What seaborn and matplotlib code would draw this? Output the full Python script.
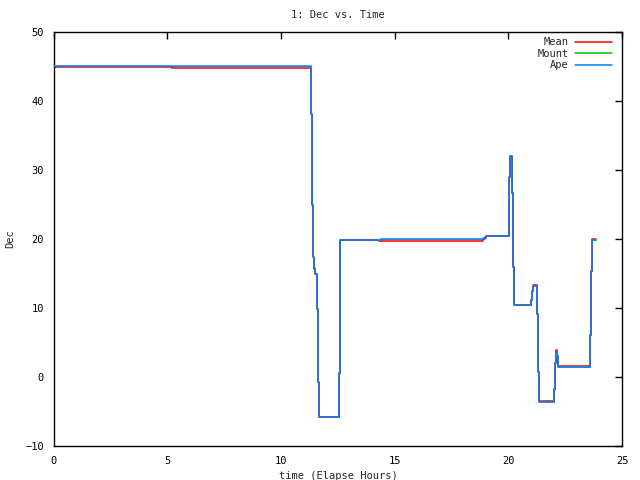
import pandas as pd
import seaborn as sns
import matplotlib.pyplot as plt

# step points (time in hours, Dec in degrees)
ape_time = [0, 11.33, 11.37, 11.41, 11.46, 11.50, 11.59, 11.63, 11.68, 12.53, 12.57, 12.60,
            14.40, 18.90, 18.95, 19.00, 20.01, 20.04, 20.08, 20.17, 20.22, 20.26, 21.00, 21.05,
            21.10, 21.27, 21.32, 21.36, 22.02, 22.06, 22.11, 22.15, 22.19, 23.60, 23.65, 23.69, 23.87]
ape_dec = [45.05, 38.2, 24.9, 17.4, 15.75, 15.0, 9.8, -0.7, -5.85, 0.55, 13.3, 19.8,
           19.95, 20.1, 20.3, 20.4, 23.2, 29.0, 32.1, 26.7, 16.0, 10.43, 11.1, 12.46,
           13.2, 9.13, 0.68, -3.58, -1.8, 1.98, 3.5, 3.0, 1.45, 6.1, 15.3, 19.86, 19.86]

mean_time = [0, 5.19, 11.33, 11.37, 11.41, 11.46, 11.50, 11.59, 11.63, 11.68, 12.53, 12.57, 12.60,
             14.32, 18.90, 18.95, 19.00, 20.01, 20.04, 20.08, 20.17, 20.22, 20.26, 21.00, 21.05,
             21.10, 21.27, 21.32, 21.36, 22.02, 22.06, 22.11, 22.15, 22.19, 23.60, 23.65, 23.69, 23.87]
mean_dec = [45.0, 44.75, 38.2, 24.9, 17.4, 15.6, 14.9, 9.8, -0.7, -5.85, 0.55, 13.3, 19.8,
            19.75, 20.0, 20.2, 20.4, 23.2, 29.0, 32.1, 26.7, 16.0, 10.43, 11.1, 12.46,
            13.3, 9.2, 0.7, -3.45, -1.8, 1.98, 3.9, 3.0, 1.6, 6.1, 15.3, 20.0, 20.0]

# mount track lies under the ape track
mount_time = ape_time
mount_dec = ape_dec

df_mean = pd.DataFrame({'time': mean_time, 'dec': mean_dec})
df_mount = pd.DataFrame({'time': mount_time, 'dec': mount_dec})
df_ape = pd.DataFrame({'time': ape_time, 'dec': ape_dec})

sns.set_style('white')
plt.rcParams['font.family'] = ['DejaVu Sans Mono']

fig, ax = plt.subplots(figsize=(6.4, 4.8), dpi=100)
fig.subplots_adjust(left=0.084, right=0.972, top=0.933, bottom=0.071)

sns.lineplot(data=df_mean, x='time', y='dec', ax=ax, color='#ff0000',
             drawstyle='steps-post', sort=False, estimator=None, label='Mean')
sns.lineplot(data=df_mount, x='time', y='dec', ax=ax, color='#00c000',
             drawstyle='steps-post', sort=False, estimator=None, label='Mount')
sns.lineplot(data=df_ape, x='time', y='dec', ax=ax, color='#0080ff',
             drawstyle='steps-post', sort=False, estimator=None, label='Ape')

# mean below, mount thin and hidden, ape on top
mean_line, mount_line, ape_line = ax.lines[0], ax.lines[1], ax.lines[2]
mean_line.set_linewidth(1.1)
mean_line.set_zorder(2)
mount_line.set_linewidth(0.5)
mount_line.set_zorder(1)
ape_line.set_linewidth(1.1)
ape_line.set_zorder(3)

ax.set_xlim(0, 25)
ax.set_ylim(-10, 50)
ax.set_xticks([0, 5, 10, 15, 20, 25])
ax.set_yticks([-10, 0, 10, 20, 30, 40, 50])
ax.tick_params(direction='in', length=5, width=1, top=True, right=True,
               labelsize=7.5, colors='black', pad=7)
for s in ax.spines.values():
    s.set_color('black')
    s.set_linewidth(1)

ax.set_title('1: Dec vs. Time', fontsize=7.5, pad=10)
ax.set_xlabel('time (Elapse Hours)', fontsize=7.5, labelpad=4)
ax.set_ylabel('Dec', fontsize=7.5, labelpad=7)

leg = ax.legend(loc='upper right', bbox_to_anchor=(0.987, 0.995), frameon=False,
                markerfirst=False, fontsize=7.5, handlelength=3.5, handletextpad=0.6,
                labelspacing=0.15, borderaxespad=0, borderpad=0.3)
for h in leg.get_lines():
    h.set_linewidth(1.1)

plt.savefig('out.png', dpi=100)
